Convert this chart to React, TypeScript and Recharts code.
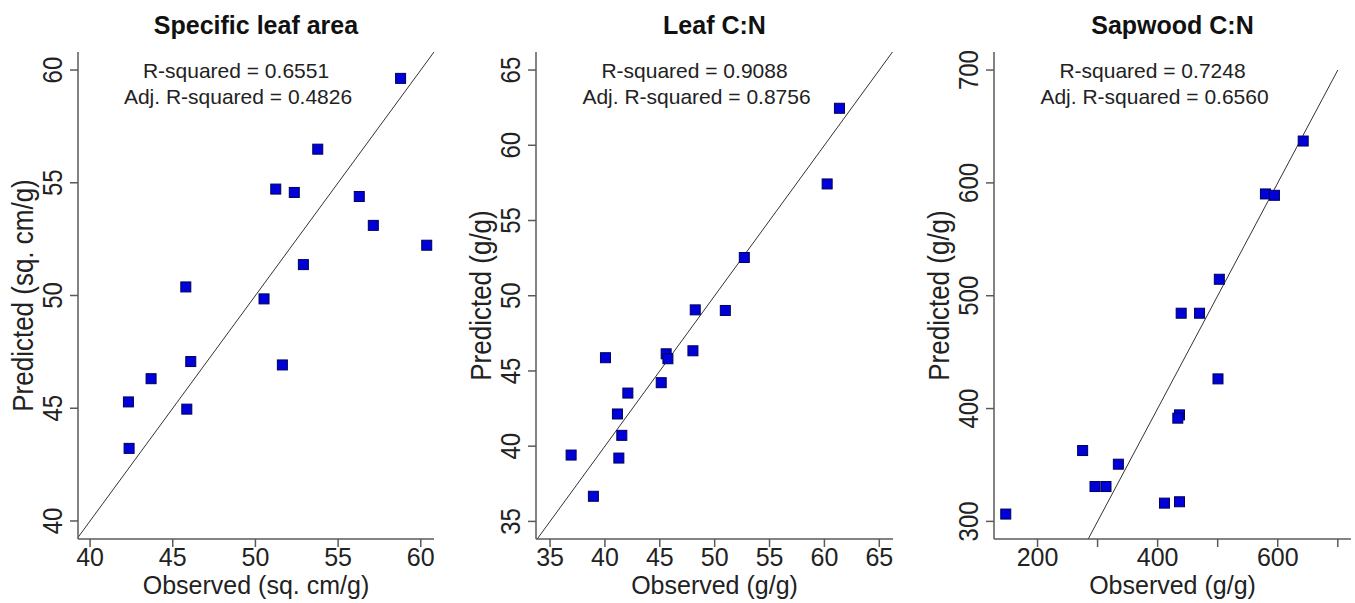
import { ScatterChart, Scatter, XAxis, YAxis, ReferenceLine } from "recharts";

const FONT = "'Liberation Sans', Arial, sans-serif";

// Specific leaf area
const slaObserved = [58.78, 53.77, 51.23, 52.35, 56.28, 57.13, 60.36, 52.9, 45.79, 50.52, 46.09, 51.63, 43.69, 42.32, 45.85, 42.36];
const slaPredicted = [59.63, 56.49, 54.72, 54.57, 54.39, 53.11, 52.23, 51.37, 50.38, 49.85, 47.07, 46.92, 46.31, 45.28, 44.96, 43.22];
const slaTicks = [40, 45, 50, 55, 60];

// Leaf C:N
const leafObserved = [61.37, 60.25, 52.7, 48.23, 50.97, 40.05, 45.58, 45.74, 48.02, 45.13, 42.09, 41.14, 41.54, 36.92, 41.27, 38.95];
const leafPredicted = [62.46, 57.43, 52.54, 49.06, 49.02, 45.88, 46.14, 45.81, 46.34, 44.22, 43.53, 42.14, 40.72, 39.41, 39.21, 36.67];
const leafTicks = [35, 40, 45, 50, 55, 60, 65];

// Sapwood C:N
const sapObserved = [642.4, 579.5, 594.5, 502.7, 439.2, 469.8, 500.5, 436.4, 433.6, 275.1, 334.6, 295.7, 314.0, 411.4, 436.4, 147.1];
const sapPredicted = [637.1, 590.2, 589.0, 514.6, 484.5, 484.5, 426.3, 394.4, 391.5, 362.8, 350.7, 330.9, 330.9, 316.2, 317.4, 306.5];
const sapXTicks = [200, 300, 400, 500, 600, 700];
const sapXLabels = [200, 400, 600];
const sapYTicks = [300, 400, 500, 600, 700];

type Panel = {
  title: string;
  xLabel: string;
  yLabel: string;
  r2: string;
  adjR2: string;
  observed: number[];
  predicted: number[];
  xDomain: [number, number];
  yDomain: [number, number];
  xTicks: number[];
  xLabels: number[];
  yTicks: number[];
  line: [number, number];
  left: number;
  width: number;
  axisWidth: number;
  right: number;
};

const panels: Panel[] = [
  {
    title: "Specific leaf area", xLabel: "Observed (sq. cm/g)", yLabel: "Predicted (sq. cm/g)",
    r2: "R-squared = 0.6551", adjR2: "Adj. R-squared = 0.4826",
    observed: slaObserved, predicted: slaPredicted,
    xDomain: [39.27, 60.8], yDomain: [39.2, 60.8],
    xTicks: slaTicks, xLabels: slaTicks, yTicks: slaTicks, line: [38, 62],
    left: 0, width: 450, axisWidth: 78, right: 16,
  },
  {
    title: "Leaf C:N", xLabel: "Observed (g/g)", yLabel: "Predicted (g/g)",
    r2: "R-squared = 0.9088", adjR2: "Adj. R-squared = 0.8756",
    observed: leafObserved, predicted: leafPredicted,
    xDomain: [33.72, 66.25], yDomain: [33.83, 66.2],
    xTicks: leafTicks, xLabels: leafTicks, yTicks: leafTicks, line: [32, 68],
    left: 450, width: 455, axisWidth: 86, right: 12,
  },
  {
    title: "Sapwood C:N", xLabel: "Observed (g/g)", yLabel: "Predicted (g/g)",
    r2: "R-squared = 0.7248", adjR2: "Adj. R-squared = 0.6560",
    observed: sapObserved, predicted: sapPredicted,
    xDomain: [127.5, 722], yDomain: [284.4, 716],
    xTicks: sapXTicks, xLabels: sapXLabels, yTicks: sapYTicks, line: [270, 700],
    left: 905, width: 450, axisWidth: 89, right: 4,
  },
];

const TOP = 52;
const BOTTOM = 64;
const HEIGHT = 603;

function Square(props: any) {
  const { cx, cy } = props;
  if (cx == null || cy == null) return null;
  return <rect x={cx - 5} y={cy - 5} width={10} height={10} fill="#0000D8" stroke="#00005A" strokeWidth={1} />;
}

function XTick({ x, y, payload, labels }: any) {
  if (!labels.includes(payload.value)) return null;
  return (
    <text x={x} y={y + 19} textAnchor="middle" fontSize={25} fill="#222" fontFamily={FONT}>
      {payload.value}
    </text>
  );
}

function YTick({ x, y, payload }: any) {
  return (
    <text
      transform={`translate(${x - 8},${y}) scale(1.15,1) rotate(-90)`}
      textAnchor="middle"
      fontSize={24}
      fill="#222"
      fontFamily={FONT}
    >
      {payload.value}
    </text>
  );
}

function PanelChart({ p }: { p: Panel }) {
  const data = p.observed.map((o, i) => ({ obs: o, pred: p.predicted[i] }));
  const plotLeft = p.left + p.axisWidth;
  const plotRight = p.left + p.width - p.right;
  const cx = (plotLeft + plotRight) / 2;
  const cy = (TOP + HEIGHT - BOTTOM) / 2;
  return (
    <>
      <div style={{ position: "absolute", left: p.left, top: 0 }}>
        <ScatterChart width={p.width} height={HEIGHT} margin={{ top: TOP, right: p.right, bottom: 0, left: 0 }}>
          <XAxis
            type="number"
            dataKey="obs"
            domain={p.xDomain}
            allowDataOverflow
            ticks={p.xTicks}
            interval={0}
            height={BOTTOM}
            tickSize={8}
            tickMargin={0}
            axisLine={{ stroke: "#5a5a5a", strokeWidth: 1.5 }}
            tickLine={{ stroke: "#5a5a5a", strokeWidth: 1.5 }}
            tick={<XTick labels={p.xLabels} />}
          />
          <YAxis
            type="number"
            dataKey="pred"
            domain={p.yDomain}
            allowDataOverflow
            ticks={p.yTicks}
            interval={0}
            width={p.axisWidth}
            tickSize={8}
            tickMargin={0}
            axisLine={{ stroke: "#5a5a5a", strokeWidth: 1.5 }}
            tickLine={{ stroke: "#5a5a5a", strokeWidth: 1.5 }}
            tick={<YTick />}
          />
          <ReferenceLine
            segment={[{ x: p.line[0], y: p.line[0] }, { x: p.line[1], y: p.line[1] }]}
            stroke="#333"
            strokeWidth={1}
            ifOverflow="hidden"
          />
          <Scatter data={data} shape={<Square />} isAnimationActive={false} />
        </ScatterChart>
      </div>
      <svg width={1355} height={HEIGHT} style={{ position: "absolute", left: 0, top: 0, pointerEvents: "none" }}>
        <text x={cx} y={34} textAnchor="middle" fontSize={25} fontWeight="bold" fill="#111" fontFamily={FONT}>
          {p.title}
        </text>
        <text x={cx - 20} y={78} textAnchor="middle" fontSize={21} fill="#222" fontFamily={FONT}>
          {p.r2}
        </text>
        <text x={cx - 18} y={104} textAnchor="middle" fontSize={21} fill="#222" fontFamily={FONT}>
          {p.adjR2}
        </text>
        <text x={cx} y={594} textAnchor="middle" fontSize={25} fill="#222" fontFamily={FONT}>
          {p.xLabel}
        </text>
        <text
          transform={`translate(${plotLeft - 45},${cy}) scale(1.12,1) rotate(-90)`}
          textAnchor="middle"
          fontSize={26}
          fill="#222"
          fontFamily={FONT}
        >
          {p.yLabel}
        </text>
      </svg>
    </>
  );
}

export default function App() {
  return (
    <div style={{ position: "absolute", left: 0, top: 0, width: 1355, height: HEIGHT, background: "#fff" }}>
      {panels.map(p => (
        <PanelChart key={p.title} p={p} />
      ))}
    </div>
  );
}
